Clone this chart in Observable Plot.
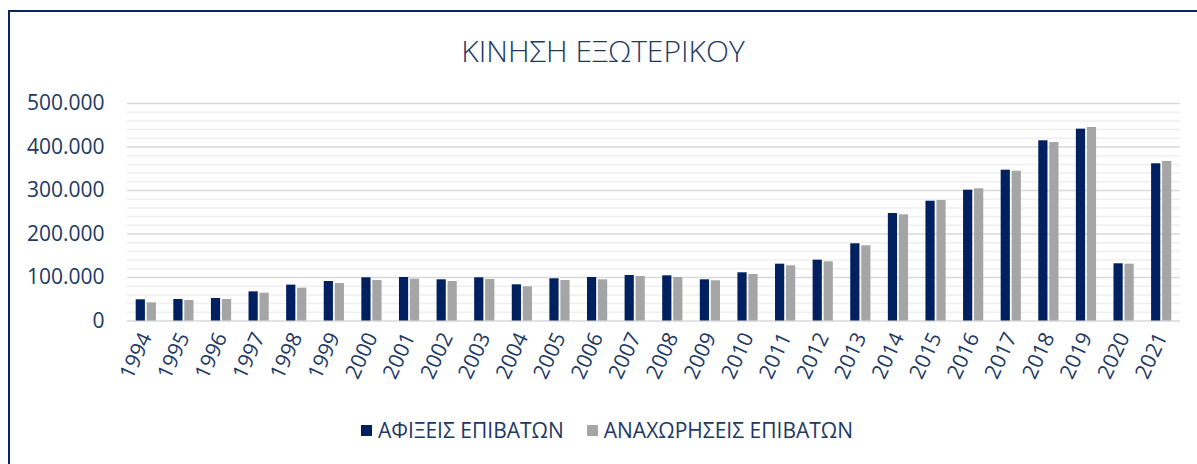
<!DOCTYPE html>
<html><head><meta charset="utf-8">
<script src="https://cdn.jsdelivr.net/npm/d3@7"></script>
<script src="https://cdn.jsdelivr.net/npm/@observablehq/plot@0.6"></script>
<style>
html,body{margin:0;padding:0;background:#fff;}
#root{position:relative;width:1197px;height:464px;overflow:hidden;font-family:"Open Sans",sans-serif;color:#203864;}
#frame{position:absolute;left:8px;top:10px;width:1220px;height:490px;border:2px solid #0a2463;box-sizing:border-box;}
#title{position:absolute;left:0;top:36px;width:1206px;text-align:center;font-size:30px;font-weight:300;line-height:1;}
#chart{position:absolute;left:0;top:80px;}
#legend{position:absolute;top:418px;left:361px;display:flex;align-items:center;font-size:21px;line-height:1.2;}
.item{display:flex;align-items:center;margin-right:23px;}
.sw{width:11px;height:11px;margin-right:6px;display:inline-block;}
</style>
</head><body>
<div id="root">
  <div id="frame"></div>
  <div id="title"></div>
  <div id="chart"></div>
  <div id="legend"></div>
</div>
<script>
const chartTitle = "ΚΙΝΗΣΗ ΕΞΩΤΕΡΙΚΟΥ";
const years = ["1994","1995","1996","1997","1998","1999","2000","2001","2002","2003","2004","2005","2006","2007","2008","2009","2010","2011","2012","2013","2014","2015","2016","2017","2018","2019","2020","2021"];
const seriesNames = ["ΑΦΙΞΕΙΣ ΕΠΙΒΑΤΩΝ", "ΑΝΑΧΩΡΗΣΕΙΣ ΕΠΙΒΑΤΩΝ"];
const seriesColors = ["#002060", "#a5a5a5"];
const arrivals = [48700, 49400, 51700, 67000, 82400, 90800, 99300, 100000, 94700, 99300, 83200, 97000, 100000, 104600, 103900, 94700, 110800, 130600, 139800, 177500, 247100, 275400, 300700, 346700, 414300, 441000, 131500, 361400];
const departures = [41800, 47100, 49400, 64000, 75500, 86200, 93100, 96100, 90800, 95400, 78600, 93100, 94700, 102300, 100000, 92400, 106900, 126900, 136100, 172900, 244100, 277000, 303900, 344400, 410400, 444800, 130600, 366700];
const yTicks = [0, 100000, 200000, 300000, 400000, 500000];
const minorStep = 20000;

const grLocale = d3.formatLocale({decimal: ",", thousands: ".", grouping: [3], currency: ["", "€"]});
const fmt = grLocale.format(",");

document.getElementById("title").textContent = chartTitle;

const W = 1197, H = 330, ML = 127, MR = 17, MT = 23, MB = 89.5;
const bandW = (W - ML - MR) / years.length;
const barW = 9.2, gap = 1.8;
const rows = years.map((y, i) => ({year: y, arr: arrivals[i], dep: departures[i]}));
const minorTicks = d3.range(minorStep, yTicks[yTicks.length - 1], minorStep).filter(v => !yTicks.includes(v));

const plot = Plot.plot({
  width: W, height: H,
  marginLeft: ML, marginRight: MR, marginTop: MT, marginBottom: MB,
  style: {fontFamily: "Open Sans, sans-serif", fontSize: "21px", color: "#203864", background: "transparent", overflow: "visible"},
  x: {domain: years, padding: 0, round: false, tickRotate: -65, tickSize: 0, tickPadding: 13, label: null},
  y: {domain: [0, yTicks[yTicks.length - 1]], ticks: yTicks, tickFormat: fmt, tickSize: 0, tickPadding: 23, label: null},
  marks: [
    Plot.ruleY(minorTicks, {stroke: "#efefef", strokeWidth: 1.5}),
    Plot.ruleY(yTicks, {stroke: "#d9d9d9", strokeWidth: 1.5}),
    Plot.barY(rows, {x: "year", y: "arr", fill: seriesColors[0],
      insetLeft: bandW / 2 - gap / 2 - barW, insetRight: bandW / 2 + gap / 2}),
    Plot.barY(rows, {x: "year", y: "dep", fill: seriesColors[1],
      insetLeft: bandW / 2 + gap / 2, insetRight: bandW / 2 - gap / 2 - barW})
  ]
});
document.getElementById("chart").appendChild(plot);

const legend = document.getElementById("legend");
seriesNames.forEach((name, i) => {
  const item = document.createElement("div");
  item.className = "item";
  const sw = document.createElement("span");
  sw.className = "sw";
  sw.style.background = seriesColors[i];
  const t = document.createElement("span");
  t.textContent = name;
  item.appendChild(sw); item.appendChild(t);
  legend.appendChild(item);
});
</script>
</body></html>
